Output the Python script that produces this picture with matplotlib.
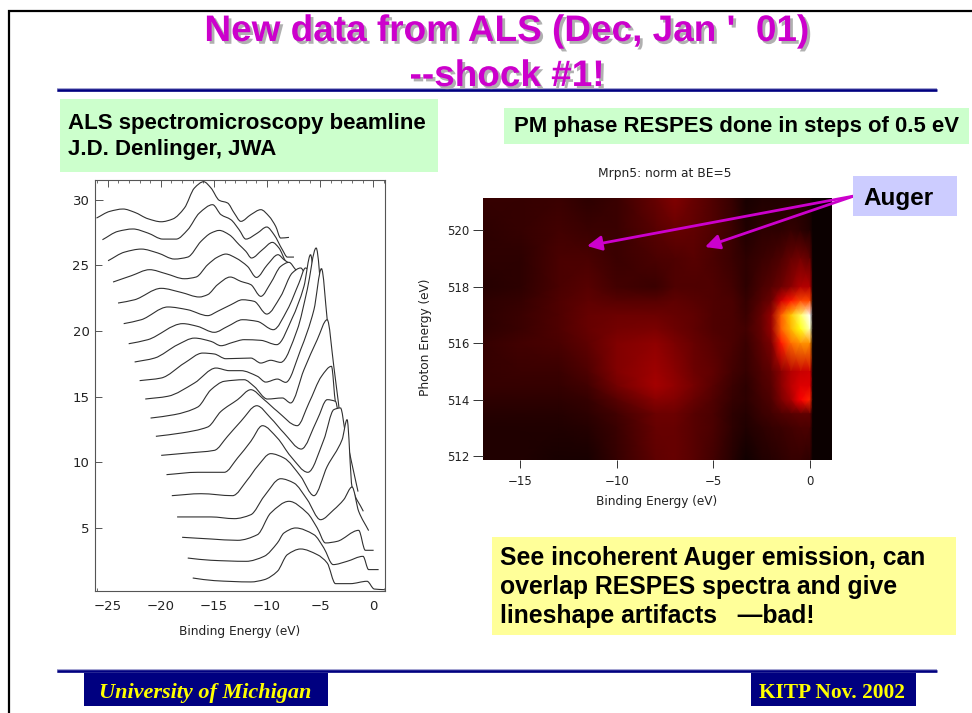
import matplotlib
matplotlib.use("Agg")
import matplotlib.pyplot as plt
import matplotlib.patheffects as pe
from matplotlib.patches import Rectangle, PathPatch
from matplotlib.path import Path
import numpy as np

W, H = 972, 713

# ---------- stacked spectra: binding energy (eV) and intensity, top curve first ----------
be1 = [-26.06,-24.81,-23.56,-22.47,-21.22,-19.97,-18.88,-17.78,-16.84,-15.97,-15.28,-14.5,-13.72,-13.09,-12.47,-11.53,-10.59,-9.81,-9.19,-8.72,-7.94]
iv1 = [28.60,29.11,29.29,29.04,28.55,28.32,28.53,29.37,30.89,31.37,30.89,29.95,29.75,28.98,28.35,28.86,29.24,28.73,27.97,27.08,27.13]
be2 = [-25.5,-24.03,-22.63,-21.22,-19.81,-18.56,-17.47,-16.38,-15.13,-14.34,-13.41,-12.63,-12.0,-10.91,-10.03,-9.34,-8.56,-8.09,-7.47]
iv2 = [26.95,27.59,27.77,27.46,27.0,27.0,27.71,28.98,29.62,28.86,28.48,27.71,27.0,27.46,27.92,27.33,26.19,25.63,25.63]
be3 = [-24.97,-23.41,-21.84,-20.28,-18.72,-17.47,-16.22,-15.28,-14.5,-13.56,-12.63,-12.0,-11.47,-10.44,-9.5,-8.88,-8.25,-7.63,-7.0]
iv3 = [25.35,26.01,26.24,25.94,25.48,25.63,26.83,27.46,27.66,27.33,26.57,26.07,25.56,26.19,26.75,26.32,25.30,24.67,24.16]
be4 = [-24.5,-22.78,-21.06,-19.5,-17.78,-16.69,-15.59,-14.66,-13.88,-12.94,-11.84,-11.0,-9.97,-8.97,-8.41,-7.78,-7.0,-6.47]
iv4 = [23.73,24.21,24.67,24.36,23.98,24.11,25.05,25.63,25.86,25.56,24.92,24.08,25.05,25.81,25.43,25.05,23.65,22.66]
be5 = [-24.03,-22.47,-19.97,-18.09,-16.38,-15.59,-14.66,-13.47,-12.47,-11.53,-10.59,-9.66,-8.72,-7.94,-7.31,-6.84,-5.97]
iv5 = [22.13,22.38,23.25,22.94,22.59,22.77,23.53,24.11,23.78,23.53,22.64,23.65,24.92,25.23,24.67,24.29,21.17]
be6 = [-23.5,-21.84,-19.34,-17.47,-15.59,-14.66,-13.41,-12.31,-11.22,-10.03,-8.72,-7.63,-6.84,-6.38,-5.44]
iv6 = [20.56,20.86,21.83,21.62,21.17,21.50,22.0,22.38,22.26,21.29,22.64,24.42,24.80,24.16,19.67]
be7 = [-23.03,-21.22,-17.94,-16.53,-14.97,-13.72,-12.31,-10.91,-9.41,-8.09,-7.0,-6.38,-5.75,-4.91]
iv7 = [19.03,19.34,20.56,20.35,19.90,20.35,20.86,20.73,20.10,21.62,23.65,24.80,23.91,18.20]
be8 = [-22.47,-20.59,-18.41,-16.84,-15.28,-14.34,-13.25,-12.16,-10.59,-9.09,-7.63,-6.53,-5.91,-5.38,-4.41]
iv8 = [17.64,17.94,18.96,19.46,19.21,18.88,19.13,19.34,19.29,18.96,20.99,23.40,25.81,22.13,16.70]
be9 = [-22.0,-19.97,-17.78,-16.06,-14.97,-13.88,-11.53,-10.59,-9.66,-8.72,-7.16,-6.22,-5.38,-4.81,-3.88]
iv9 = [16.22,16.42,17.56,18.32,18.25,17.89,17.94,17.56,17.77,17.61,20.10,23.15,26.32,22.13,15.20]
be10 = [-21.47,-19.34,-16.84,-14.81,-13.56,-12.47,-10.91,-10.13,-9.03,-8.25,-6.84,-5.59,-4.88,-4.34,-3.41]
iv10 = [14.82,15.03,16.04,17.18,16.98,16.98,16.55,16.11,16.34,16.09,18.58,21.62,24.75,20.86,13.73]
be11 = [-20.97,-18.72,-16.53,-15.28,-14.03,-12.16,-11.22,-9.97,-8.56,-7.78,-6.53,-5.28,-4.34,-3.72,-2.94]
iv11 = [13.37,13.63,14.21,15.53,16.17,16.29,15.78,14.82,14.90,14.52,17.05,19.34,20.86,17.31,12.23]
be12 = [-20.47,-18.09,-15.59,-14.34,-12.78,-11.53,-10.28,-9.03,-7.16,-6.06,-4.88,-3.94,-3.56,-2.44]
iv12 = [11.98,12.23,12.69,13.88,14.77,15.53,14.77,13.88,12.79,14.52,16.55,17.31,14.52,10.73]
be13 = [-19.97,-17.47,-14.97,-13.72,-12.47,-10.97,-9.66,-8.41,-6.78,-5.28,-4.34,-3.56,-3.09,-1.94]
iv13 = [10.53,10.71,10.91,11.98,13.12,14.31,13.37,12.23,11.01,13.25,14.77,14.64,12.49,9.26]
be14 = [-19.47,-16.53,-14.03,-12.78,-11.53,-10.44,-9.03,-7.78,-6.16,-4.66,-3.72,-3.09,-2.63,-1.44]
iv14 = [9.06,9.24,9.24,10.33,11.60,12.79,11.85,10.46,9.24,11.72,14.01,14.14,12.23,7.77]
be15 = [-18.97,-16.22,-13.25,-11.84,-10.91,-9.66,-8.41,-6.84,-5.59,-4.34,-2.94,-2.47,-2.0,-0.94]
iv15 = [7.46,7.61,7.46,8.68,9.69,10.66,10.33,8.93,7.46,9.69,11.72,13.25,8.12,6.27]
be16 = [-18.47,-15.28,-13.09,-11.53,-10.28,-8.72,-7.47,-6.22,-4.97,-3.72,-2.78,-2.0,-1.38,-0.44]
iv16 = [5.84,5.84,5.71,6.01,7.41,8.75,8.42,7.16,5.63,6.39,7.16,8.12,6.27,4.80]
be17 = [-18.0,-15.28,-12.78,-10.91,-9.66,-7.94,-6.22,-5.28,-4.5,-3.41,-1.38,-0.75,0.03]
iv17 = [4.29,4.16,4.06,4.49,6.14,7.03,6.14,5.0,3.86,3.98,4.82,3.30,3.30]
be18 = [-17.47,-15.28,-11.97,-10.28,-9.03,-8.41,-7.31,-5.59,-4.66,-3.78,-2.47,-0.97,-0.44,0.5]
iv18 = [2.71,2.54,2.46,2.84,3.86,4.62,5.0,4.49,3.48,2.21,2.46,2.84,1.83,1.83]
be19 = [-17.0,-14.97,-11.53,-10.28,-9.03,-8.09,-6.84,-5.28,-4.34,-3.56,-2.16,-0.59,0.09,1.06]
iv19 = [1.19,0.99,0.89,1.06,1.70,2.97,3.40,2.97,2.33,0.76,0.76,0.94,0.35,0.30]
spectra = [(be1,iv1),(be2,iv2),(be3,iv3),(be4,iv4),(be5,iv5),(be6,iv6),(be7,iv7),(be8,iv8),(be9,iv9),(be10,iv10),
           (be11,iv11),(be12,iv12),(be13,iv13),(be14,iv14),(be15,iv15),(be16,iv16),(be17,iv17),(be18,iv18),(be19,iv19)]
spectra_xticks = [-25,-20,-15,-10,-5,0]
spectra_yticks = [5,10,15,20,25,30]

# ---------- RESPES map: intensity over binding energy and photon energy ----------
map_be = [-17,-15,-13,-11.5,-10,-8,-7,-6,-5,-4,-3.3,-2.5,-2,-1.5,-1,-0.5,0,0.15,1.14]
map_hv = [521.15,520,519,518,517.5,517,516.5,516,515,514.5,514,513.5,513,511.85]
map_int = [
 [.06,.06,.07,.05,.07,.13,.17,.13,.10,.06,.02,.03,.03,.03,.03,.03,.02,0,0],
 [.05,.06,.08,.07,.07,.11,.13,.12,.10,.07,.03,.05,.05,.05,.06,.05,.03,0,0],
 [.05,.05,.09,.09,.07,.09,.10,.11,.09,.07,.05,.07,.08,.10,.13,.15,.12,0,0],
 [.04,.05,.09,.11,.08,.07,.10,.10,.10,.08,.05,.09,.11,.14,.18,.24,.24,0,0],
 [.05,.06,.10,.12,.11,.11,.12,.11,.10,.09,.06,.11,.14,.28,.38,.45,.45,0,0],
 [.05,.07,.10,.13,.14,.14,.13,.12,.10,.09,.07,.13,.20,.48,.62,.80,.95,0,0],
 [.05,.07,.10,.13,.15,.16,.14,.12,.10,.09,.08,.13,.20,.48,.60,.72,.88,0,0],
 [.06,.08,.09,.12,.17,.19,.16,.13,.11,.09,.07,.12,.16,.38,.50,.55,.55,0,0],
 [.06,.07,.07,.10,.17,.21,.18,.14,.12,.08,.06,.10,.12,.18,.24,.27,.28,0,0],
 [.06,.06,.06,.08,.15,.22,.19,.15,.11,.07,.05,.09,.11,.18,.25,.30,.30,0,0],
 [.05,.05,.05,.06,.11,.18,.17,.13,.10,.06,.05,.08,.10,.16,.22,.34,.40,0,0],
 [.04,.04,.04,.05,.08,.14,.14,.11,.09,.05,.04,.07,.08,.10,.11,.12,.12,0,0],
 [.03,.03,.03,.04,.07,.13,.13,.11,.09,.05,.03,.05,.06,.07,.08,.09,.09,0,0],
 [.03,.03,.02,.02,.06,.12,.13,.11,.08,.04,.01,.03,.04,.05,.06,.06,.05,0,0],
]
map_xticks = [-15,-10,-5,0]
map_yticks = [512,514,516,518,520]

# ---------- slide text ----------
title_lines = ["New data from ALS (Dec, Jan '  01)", "--shock #1!"]
left_note = ["ALS spectromicroscopy beamline", "J.D. Denlinger, JWA"]
right_note = "PM phase RESPES done in steps of 0.5 eV"
bottom_note = ["See incoherent Auger emission, can", "overlap RESPES spectra and give", "lineshape artifacts   \u2014bad!"]
footer_left = "University of Michigan"
footer_right = "KITP Nov. 2002"
BOLD = "Liberation Sans"
SERIF = "Liberation Serif"
AXF = "DejaVu Sans"
MAGENTA = "#CC00CC"
NAVY = "#000080"

fig = plt.figure(figsize=(W/100, H/100), dpi=100, facecolor="white")

def px_axes(x0, y0, x1, y1, **kw):
    return fig.add_axes([x0/W, 1-y1/H, (x1-x0)/W, (y1-y0)/H], **kw)

def smooth_path(x, y):
    """Bezier path through the read points (shape-preserving tangents), drawn by Agg as a curve."""
    x = np.asarray(x, float); y = np.asarray(y, float)
    h = np.diff(x); s = np.diff(y)/h
    d = np.zeros_like(x)
    d[0], d[-1] = s[0], s[-1]
    for k in range(1, len(x)-1):
        if s[k-1]*s[k] > 0:
            d[k] = 2*s[k-1]*s[k]/(s[k-1]+s[k])
    verts = [(x[0], y[0])]
    codes = [Path.MOVETO]
    for k in range(len(h)):
        verts += [(x[k]+h[k]/3, y[k]+d[k]*h[k]/3), (x[k+1]-h[k]/3, y[k+1]-d[k+1]*h[k]/3), (x[k+1], y[k+1])]
        codes += [Path.CURVE4]*3
    return verts, codes

# background layer in pixel coordinates
bg = px_axes(0, 0, W, H, zorder=0)
bg.set_xlim(0, W); bg.set_ylim(H, 0); bg.axis("off")
bg.plot([9, 9, W], [H, 11, 11], color="black", lw=1.6, solid_joinstyle="miter")
for yy in (90, 671):
    bg.plot([57, 937], [yy, yy], color="#A0A0D0", lw=2.8, solid_capstyle="butt")
    bg.plot([57, 937], [yy, yy], color=NAVY, lw=1.8, solid_capstyle="butt")
for (x0, y0, x1, y1, c) in [(60,99,438,172,"#CCFFCC"),(504,108,969,144,"#CCFFCC"),(492,537,956,635,"#FFFF99"),
                            (84,672,328,706,NAVY),(751,672,916,706,NAVY)]:
    bg.add_patch(Rectangle((x0,y0), x1-x0, y1-y0, fc=c, ec="none"))

# left panel: later (lower) curves hide the earlier ones
ax = px_axes(95, 180, 385, 591, zorder=2)
ax.set_xlim(-26.2, 1.1); ax.set_ylim(0.2, 31.5)
for i, (b, v) in enumerate(spectra):
    verts, codes = smooth_path(b, v)
    fill = Path(verts + [(b[-1], 0.2), (b[0], 0.2), (b[0], v[0])],
                codes + [Path.LINETO, Path.LINETO, Path.CLOSEPOLY])
    ax.add_patch(PathPatch(fill, fc="white", ec="none", zorder=2*i+1))
    ax.add_patch(PathPatch(Path(verts, codes), fc="none", ec="#303030", lw=0.8, zorder=2*i+2))
ax.set_xticks(spectra_xticks); ax.set_yticks(spectra_yticks)
ax.set_xticks(np.arange(-26, 2, 1), minor=True)
ax.tick_params(axis="x", which="major", direction="in", top=True, length=5, width=0.7, color="#555", labelsize=9.5, pad=6.5)
ax.tick_params(axis="x", which="minor", direction="in", top=True, length=2.5, width=0.6, color="#555")
ax.tick_params(axis="y", which="major", direction="in", length=6, width=0.7, color="#555", labelsize=9.5, pad=4)
for lab in ax.get_xticklabels()+ax.get_yticklabels():
    lab.set_family(AXF); lab.set_color("#222")
for s in ax.spines.values():
    s.set_color("#555"); s.set_linewidth(0.8); s.set_zorder(60)

# right panel
am = px_axes(483, 198, 832, 460, zorder=2)
am.pcolormesh(map_be, map_hv, np.array(map_int), cmap="hot", vmin=0, vmax=0.95, shading="gouraud", rasterized=True)
am.set_xlim(-16.94, 1.14); am.set_ylim(511.87, 521.15)
am.set_xticks(map_xticks); am.set_yticks(map_yticks)
am.tick_params(axis="x", direction="out", length=6, width=0.7, color="#333", labelsize=8.5, pad=5, labelcolor="#222")
am.tick_params(axis="y", direction="out", length=7, width=0.7, color="#333", labelsize=8.5, pad=3, labelcolor="#222")
for lab in am.get_xticklabels()+am.get_yticklabels():
    lab.set_family(AXF)
for s in am.spines.values():
    s.set_visible(False)

# overlay in pixel coordinates
ov = px_axes(0, 0, W, H, zorder=5)
ov.set_xlim(0, W); ov.set_ylim(H, 0); ov.axis("off"); ov.patch.set_alpha(0)

shadow = [pe.withSimplePatchShadow(offset=(2, -2), shadow_rgbFace="#B0B0B0", alpha=1.0)]
for txt, yb in zip(title_lines, (41, 86)):
    ov.text(507, yb, txt, ha="center", va="baseline", family=BOLD, weight="bold", fontsize=26.6,
            color=MAGENTA, path_effects=shadow)
for txt, yb in zip(left_note, (129, 155)):
    ov.text(68, yb, txt, ha="left", va="baseline", family=BOLD, weight="bold", fontsize=16, color="black")
ov.text(514, 132, right_note, ha="left", va="baseline", family=BOLD, weight="bold", fontsize=15.9, color="black")
for txt, yb in zip(bottom_note, (565, 594, 623)):
    ov.text(500, yb, txt, ha="left", va="baseline", family=BOLD, weight="bold", fontsize=17.8, color="black")

ov.text(240, 632, "Binding Energy (eV)", ha="center", va="center", family=AXF, fontsize=8.7, color="#222")
ov.text(657, 501, "Binding Energy (eV)", ha="center", va="center", family=AXF, fontsize=8.7, color="#222")
ov.text(425, 337, "Photon Energy (eV)", ha="center", va="center", rotation=90, family=AXF, fontsize=8.7, color="#222")
ov.text(665, 174, "Mrpn5: norm at BE=5", ha="center", va="center", family=AXF, fontsize=8.8, color="#222")

ov.add_patch(Rectangle((853,176), 104, 40, fc="#CCCCFF", ec="none", zorder=3))
ov.text(863, 205, "Auger", ha="left", va="baseline", family=BOLD, weight="bold", fontsize=17.5, color="black", zorder=4)
for tip in [(587, 246), (705, 247)]:
    ov.annotate("", xy=tip, xytext=(854, 196),
                arrowprops=dict(arrowstyle="-|>", color=MAGENTA, lw=2, mutation_scale=22, shrinkA=0, shrinkB=0), zorder=2)

ov.text(99, 698, footer_left, ha="left", va="baseline", family=SERIF, weight="bold", style="italic", fontsize=16, color="yellow")
ov.text(759, 698, footer_right, ha="left", va="baseline", family=SERIF, weight="bold", fontsize=15.4, color="yellow")

fig.savefig("out.png", dpi=100)
